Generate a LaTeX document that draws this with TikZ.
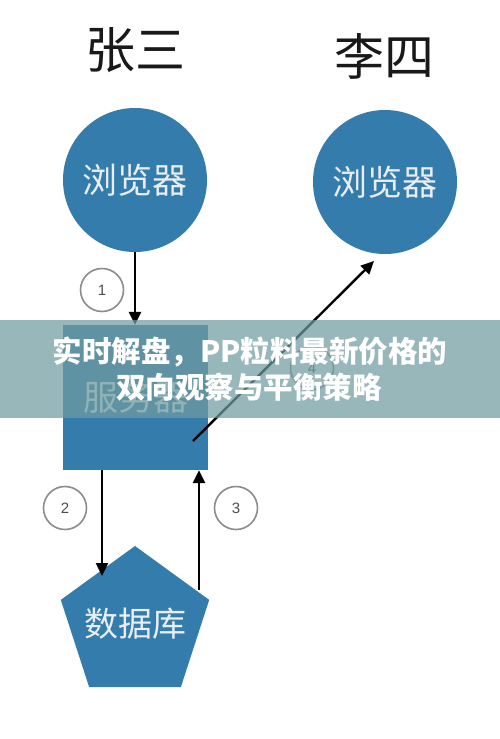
\documentclass[tikz,border=0pt]{standalone}
\usepackage{fontspec}
\setmainfont{Noto Sans CJK SC}
\newfontfamily\numfont{Liberation Sans}
\usetikzlibrary{shapes.geometric,arrows.meta,calc}
\definecolor{nodeblue}{RGB}{52,124,172}
\definecolor{nodetext}{RGB}{232,238,244}
\definecolor{bannerc}{RGB}{112,156,160}
\definecolor{numgrey}{RGB}{140,140,140}
\definecolor{persontext}{RGB}{25,25,25}
\tikzset{
  person/.style={text=persontext, inner sep=0pt, font=\fontsize{50}{50}\selectfont},
  bluecirc/.style={circle, fill=nodeblue, minimum size=144pt, inner sep=0pt, text=nodetext, font=\fontsize{35}{35}\selectfont},
  bluesq/.style={rectangle, fill=nodeblue, minimum width=145pt, minimum height=145pt, inner sep=0pt, text=nodetext, font=\fontsize{35}{35}\selectfont},
  bluepent/.style={regular polygon, regular polygon sides=5, fill=nodeblue, minimum size=156pt, inner sep=0pt},
  penttext/.style={inner sep=0pt, text=nodetext, font=\fontsize{34}{34}\selectfont},
  numc/.style={circle, draw=numgrey, line width=1.6pt, fill=white, minimum size=43pt, inner sep=0pt, text=black!70, font=\numfont\fontsize{15}{15}\selectfont},
  arr/.style={line width=2.4pt, -{Triangle[length=13pt,width=12pt]}},
  bannertext/.style={text=white, inner sep=0pt, font=\bfseries\fontsize{29.5}{29.5}\selectfont}
}
\begin{document}
\begin{tikzpicture}[x=1pt,y=-1pt]
\useasboundingbox (0,0) rectangle (500,739);
\fill[white] (0,0) rectangle (500,739);

% people
\node[person] (zs) at (135,50) {张三};
\node[person] (ls) at (384,56) {李四};

% shapes
\node[bluecirc] (b1) at (135,180) {浏览器};
\node[bluecirc] (b2) at (385,182) {浏览器};
\node[bluesq] (srv) at (135.5,397.5) {\raisebox{-3pt}{服务器}};
\node[bluepent] (db) at (135,624) {};
\node[penttext] (dbt) at (db.center) {数据库};

% step numbers
\node[numc] (n1) at (102,290) {1};
\node[numc] (n2) at (65,508) {2};
\node[numc] (n3) at (236,508) {3};
\node[numc] (n4) at (312,368) {4};

% connector ends
\coordinate (db2) at (102,576);
\coordinate (db3) at (199,590);
\coordinate (s4) at (193,441);
\coordinate (t4) at (374,261);

% connectors
\draw[arr] (b1.south) -- (b1.south |- srv.north);
\draw[arr] ([xshift=-33.5pt]srv.south) -- (db2);
\draw[arr] (db3) -- (db3 |- srv.south);
\draw[arr] (s4) -- (t4);

% banner
\fill[bannerc, opacity=0.72] (0,320) rectangle (500,418);
\node[bannertext] (t1) at (250,352) {实时解盘，PP粒料最新价格的};
\node[bannertext] (t2) at (249,387) {双向观察与平衡策略};
\end{tikzpicture}
\end{document}
